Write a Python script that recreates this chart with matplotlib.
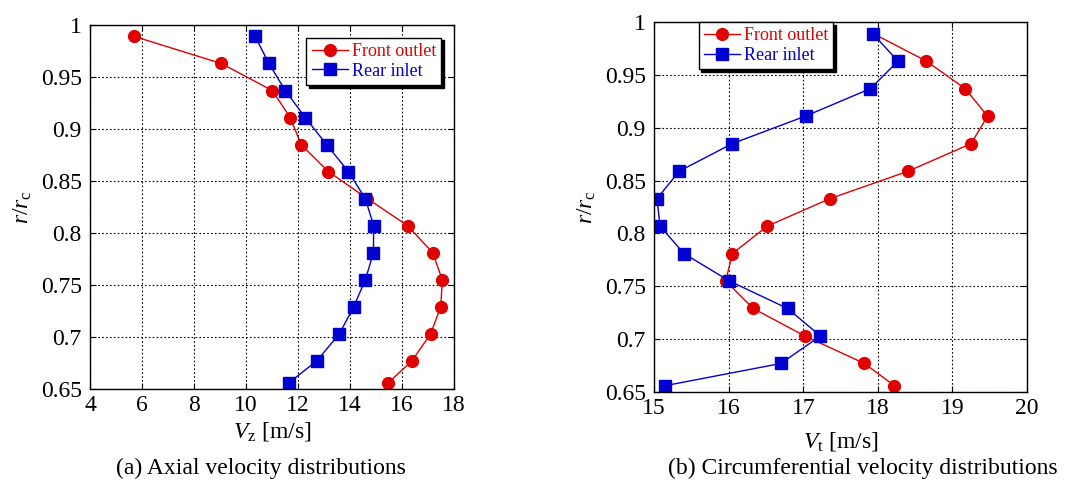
import matplotlib
matplotlib.use('Agg')
import matplotlib.pyplot as plt
import numpy as np

plt.rcParams['font.family'] = ['Liberation Serif', 'DejaVu Serif']
plt.rcParams['mathtext.fontset'] = 'custom'
plt.rcParams['mathtext.rm'] = 'Liberation Serif'
plt.rcParams['mathtext.it'] = 'Liberation Serif:italic'

# radial positions r/rc
r_pos = [0.989, 0.963, 0.937, 0.911, 0.885, 0.859, 0.833, 0.807, 0.781, 0.755, 0.729, 0.703, 0.677, 0.656]

# (a) axial velocity
vz_front = [5.70, 9.05, 11.01, 11.70, 12.12, 13.17, 14.67, 16.22, 17.18, 17.55, 17.49, 17.10, 16.38, 15.47]
vz_rear = [10.35, 10.88, 11.51, 12.28, 13.10, 13.94, 14.59, 14.91, 14.90, 14.59, 14.14, 13.59, 12.72, 11.65]

# (b) circumferential velocity
vt_front = [17.94, 18.65, 19.17, 19.47, 19.25, 18.41, 17.36, 16.52, 16.05, 15.96, 16.33, 17.02, 17.82, 18.22]
vt_rear = [17.93, 18.27, 17.90, 17.03, 16.05, 15.34, 15.04, 15.08, 15.40, 16.01, 16.79, 17.23, 16.70, 15.15]

yticks = [0.65, 0.7, 0.75, 0.8, 0.85, 0.9, 0.95, 1.0]
yticklabels = ['0.65', '0.7', '0.75', '0.8', '0.85', '0.9', '0.95', '1']

red = '#e00000'
blue = '#0000d0'

fig = plt.figure(figsize=(10.68, 4.83), dpi=100)
ax1 = fig.add_axes([0.0843, 0.1946, 0.3408, 0.7536])
ax2 = fig.add_axes([0.6124, 0.1884, 0.3493, 0.7660])


def style(ax, xlim, xticks):
    ax.set_xlim(*xlim)
    ax.set_ylim(0.65, 1.0)
    ax.set_xticks(xticks)
    ax.set_yticks(yticks)
    ax.set_yticklabels(yticklabels)
    ax.tick_params(direction='in', top=True, right=True, labelsize=17, length=4)
    ax.tick_params(axis='y', pad=6)
    ax.tick_params(axis='x', pad=4)
    ax.grid(True, color='black', linestyle=(0, (1.5, 2)), linewidth=0.8)
    for s in ax.spines.values():
        s.set_linewidth(1.0)


leg_kw = dict(fontsize=13, labelcolor='linecolor', fancybox=False, edgecolor='black',
              framealpha=1, handlelength=2.0, handletextpad=0.2, borderpad=0.3,
              labelspacing=0.15, shadow={'color': 'black', 'alpha': 1})

ax1.plot(vz_front, r_pos, '-o', color=red, lw=1.0, ms=8.5, label='Front outlet')
ax1.plot(vz_rear, r_pos, '-s', color=blue, lw=1.0, ms=8.5, label='Rear inlet')
style(ax1, (4, 18), [4, 6, 8, 10, 12, 14, 16, 18])
ax1.set_xlabel(r'$V_{\rm z}$ [m/s]', fontsize=17, labelpad=3)
ax1.set_ylabel(r'$r/r_{\rm c}$', fontsize=17, labelpad=5)
ax1.legend(loc='upper right', bbox_to_anchor=(0.99, 0.99), **leg_kw)

ax2.plot(vt_front, r_pos, '-o', color=red, lw=1.0, ms=8.5, label='Front outlet')
ax2.plot(vt_rear, r_pos, '-s', color=blue, lw=1.0, ms=8.5, label='Rear inlet')
style(ax2, (15, 20), [15, 16, 17, 18, 19, 20])
ax2.set_xlabel(r'$V_{\rm t}$ [m/s]', fontsize=17, labelpad=8)
ax2.set_ylabel(r'$r/r_{\rm c}$', fontsize=17, labelpad=5)
ax2.legend(loc='upper left', bbox_to_anchor=(0.095, 1.025), **leg_kw)

fig.text(0.244, 0.018, '(a) Axial velocity distributions', ha='center', va='baseline', fontsize=17)
fig.text(0.808, 0.018, '(b) Circumferential velocity distributions', ha='center', va='baseline', fontsize=17)

fig.savefig('out.png', dpi=100)
